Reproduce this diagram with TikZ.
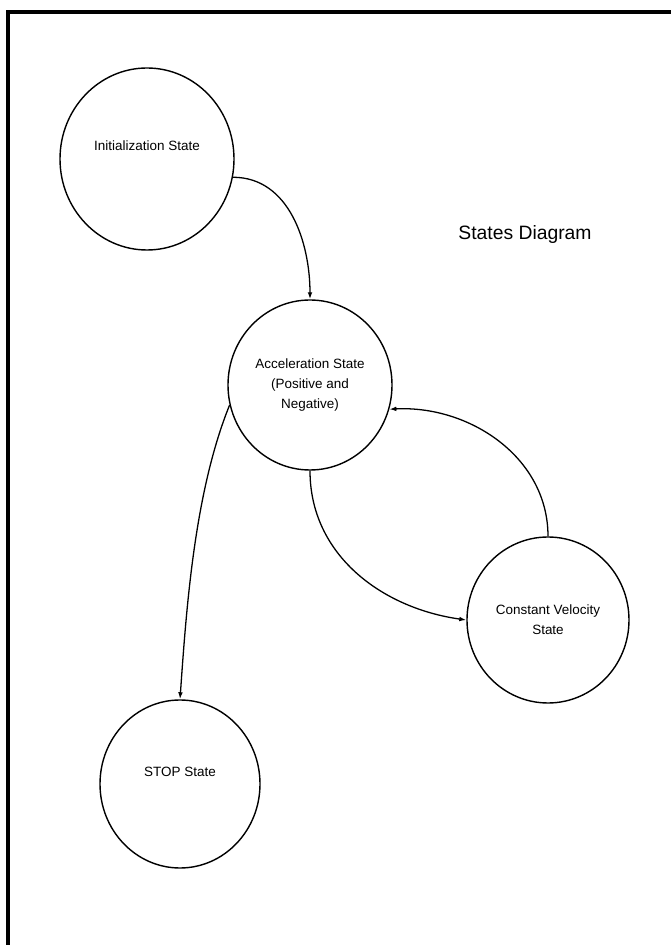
\documentclass[tikz,border=0pt]{standalone}
\usepackage{fontspec}
\setmainfont{Liberation Sans}
\usetikzlibrary{
  arrows.meta,
  shapes.geometric
}
\tikzset{
  % State bubble
  state/.style={
    ellipse,
    draw=black,
    line width=1.2pt,
    inner sep=0pt,
    align=center,
    font=\fontsize{11.5}{17}\selectfont
  },
  % Transition between states
  trans/.style={
    draw=black,
    line width=1.1pt,
    -{Latex[length=6pt,width=4pt]}
  },
  % Page frame
  frameline/.style={
    draw=black,
    line width=3pt
  },
  % Diagram title
  dtitle/.style={
    font=\fontsize{16.5}{20}\selectfont
  }
}
\begin{document}
\begin{tikzpicture}[x=0.3mm, y=0.3mm]
  \useasboundingbox (0,0) rectangle (671,945);

  \coordinate (fBL) at (8,0);
  \coordinate (fTL) at (8,933);
  \coordinate (fTR) at (671,933);
  \draw[frameline] (fBL) -- (fTL) -- (fTR);

  \node[state, minimum width=52.2mm, minimum height=54.6mm] (init)  at (147,786) {Initialization State\\[6pt]};
  \node[state, minimum width=49.2mm, minimum height=51mm]   (accel) at (310,560) {Acceleration State\\(Positive and\\Negative)};
  \node[state, minimum width=48.6mm, minimum height=49.8mm] (const) at (548,325) {Constant Velocity\\State};
  \node[state, minimum width=48mm,   minimum height=50.4mm] (stop)  at (180,161) {STOP State\\[4pt]};

  \node[dtitle] (title) at (525,710) {States Diagram};

  \draw[trans] (init.-12) to[out=0, in=90] (accel.north);
  \draw[trans] (accel.194) to[out=248, in=86, looseness=0.8] (stop.north);
  \draw[trans] (accel.south) to[out=-90, in=172] (const.west);
  \draw[trans] (const.north) to[out=90, in=3] (accel.-17);
\end{tikzpicture}
\end{document}
